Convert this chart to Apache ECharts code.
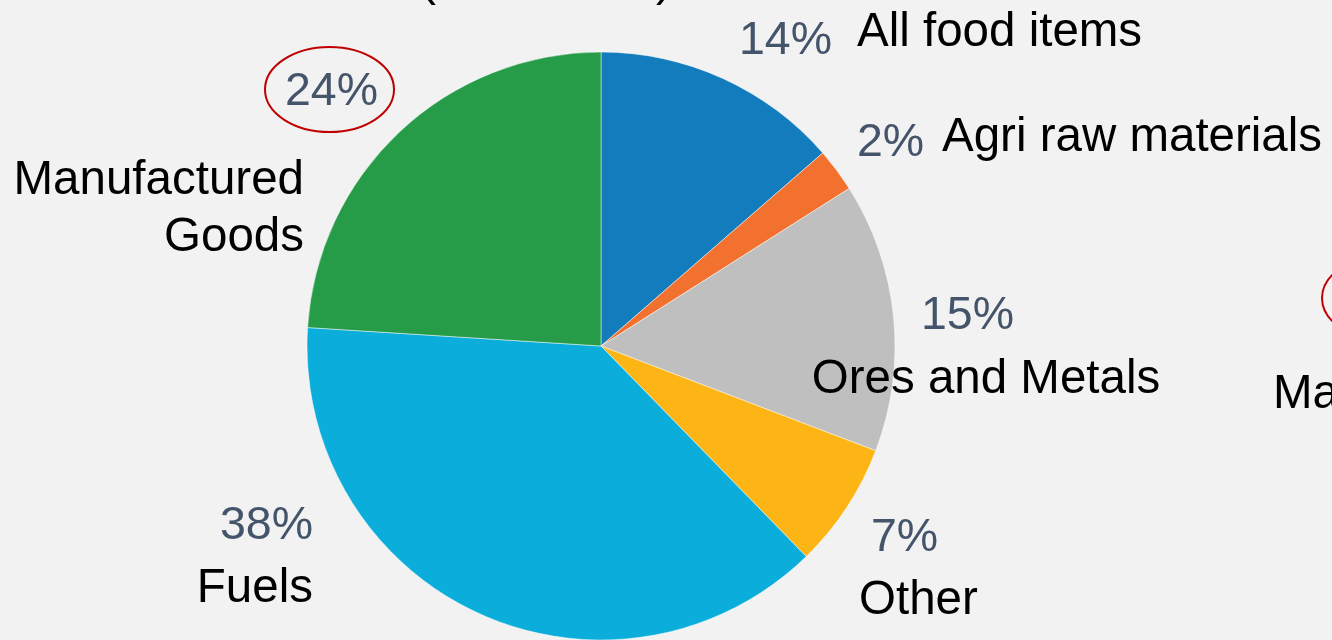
<!DOCTYPE html>
<html>
<head>
<meta charset="utf-8">
<script src="https://cdn.jsdelivr.net/npm/echarts@6/dist/echarts.min.js"></script>
<style>
html,body{margin:0;padding:0;background:#F2F2F2;}
#chart{width:1332px;height:640px;}
</style>
</head>
<body>
<div id="chart"></div>
<script>
// ---- data ----
const categories = ['All food items', 'Agri raw materials', 'Ores and Metals', 'Other', 'Fuels', 'Manufactured Goods'];
const shares = [13.6, 2.4, 14.8, 6.9, 38.3, 24.0];
const nameLabels = ['All food items', 'Agri raw materials', 'Ores and Metals', 'Other', 'Fuels', 'Manufactured\nGoods'];
const sliceColors = ['#137CBD', '#F3712E', '#BFBFBF', '#FDB515', '#0BADDA', '#269C48'];

// ---- label placement (layout, not data) ----
const nameLayout = [
  {x: 857, y: 33, align: 'left'},
  {x: 942, y: 138, align: 'left'},
  {x: 986, y: 380, align: 'center'},
  {x: 859, y: 601, align: 'left'},
  {x: 313, y: 589, align: 'right'},
  {x: 304, y: 209, align: 'right'}
];
const pctLayout = [
  {x: 739, y: 41, align: 'left'},
  {x: 857, y: 143, align: 'left'},
  {x: 921, y: 316, align: 'left'},
  {x: 871, y: 538, align: 'left'},
  {x: 313, y: 526, align: 'right'},
  {x: 285, y: 92, align: 'left'}
];

const FONT = '"Liberation Sans", Arial, sans-serif';
const chart = echarts.init(document.getElementById('chart'), null, {renderer: 'canvas'});

const sliceData = categories.map((c, i) => ({
  name: c,
  value: shares[i],
  itemStyle: {color: sliceColors[i]}
}));

const option = {
  backgroundColor: '#F2F2F2',
  animation: false,
  series: [
    {
      type: 'pie',
      center: [601, 346],
      radius: [0, 294],
      startAngle: 90,
      clockwise: true,
      avoidLabelOverlap: false,
      itemStyle: {borderColor: 'rgba(255,255,255,0.6)', borderWidth: 0.8},
      label: {
        show: true,
        position: 'outside',
        fontFamily: FONT,
        fontSize: 47.5,
        color: '#000000',
        lineHeight: 57,
        formatter: p => nameLabels[p.dataIndex]
      },
      labelLine: {show: false},
      labelLayout: p => ({
        x: nameLayout[p.dataIndex].x,
        y: nameLayout[p.dataIndex].y,
        align: nameLayout[p.dataIndex].align,
        verticalAlign: 'middle',
        hideOverlap: false,
        moveOverlap: null
      }),
      emphasis: {disabled: true},
      data: sliceData
    },
    {
      type: 'pie',
      center: [601, 346],
      radius: [0, 294],
      startAngle: 90,
      clockwise: true,
      silent: true,
      avoidLabelOverlap: false,
      itemStyle: {color: 'rgba(0,0,0,0)', borderWidth: 0},
      label: {
        show: true,
        position: 'outside',
        fontFamily: FONT,
        fontSize: 46.5,
        color: '#44546A',
        formatter: p => Math.round(p.percent) + '%'
      },
      labelLine: {show: false},
      labelLayout: p => ({
        x: pctLayout[p.dataIndex].x,
        y: pctLayout[p.dataIndex].y,
        align: pctLayout[p.dataIndex].align,
        verticalAlign: 'middle',
        hideOverlap: false,
        moveOverlap: null
      }),
      emphasis: {disabled: true},
      data: categories.map((c, i) => ({name: c, value: shares[i]}))
    }
  ],
  graphic: [
    // red highlight ring around 24%
    {type: 'ellipse', shape: {cx: 329.5, cy: 89.5, rx: 64.5, ry: 42.5},
     style: {fill: 'none', stroke: '#C00000', lineWidth: 2}, z: 10},
    // neighbouring chart, cut off at right edge
    {type: 'ellipse', shape: {cx: 1386.5, cy: 298, rx: 64.5, ry: 42.5},
     style: {fill: 'none', stroke: '#C00000', lineWidth: 2}, z: 10},
    {type: 'text', x: 1273, y: 395,
     style: {text: 'Manufactured', font: '47.5px ' + FONT, fill: '#000000', align: 'left', verticalAlign: 'middle'}, z: 10},
    // title cut off at top edge
    {type: 'text', x: 420, y: -18,
     style: {text: '(', font: '48px ' + FONT, fill: '#000000', align: 'left', verticalAlign: 'middle'}, z: 10},
    {type: 'text', x: 672, y: -18,
     style: {text: ')', font: '48px ' + FONT, fill: '#000000', align: 'right', verticalAlign: 'middle'}, z: 10}
  ]
};
chart.setOption(option);
</script>
</body>
</html>
